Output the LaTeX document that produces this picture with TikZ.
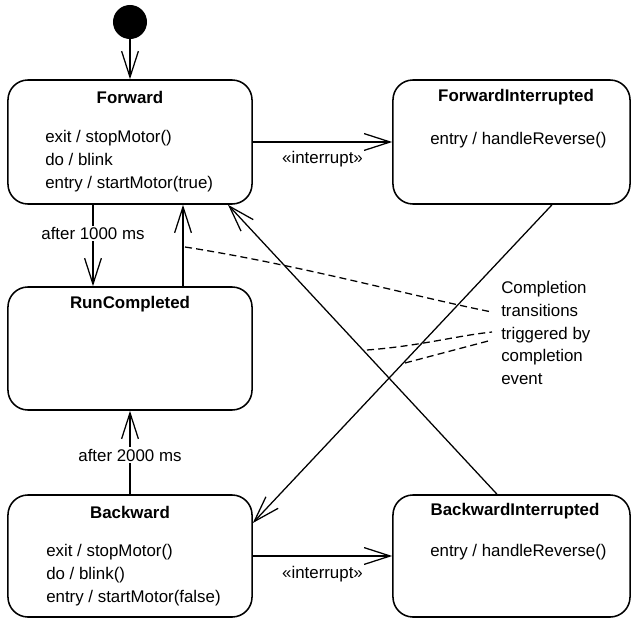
\documentclass[tikz,border=0pt]{standalone}
\usepackage{fontspec}
\setmainfont{Liberation Sans}
\usetikzlibrary{arrows.meta}

\begin{document}
\begin{tikzpicture}[x=0.025cm,y=-0.025cm]
\tikzstyle{every node}=[font=\fontsize{12}{16.2}\selectfont]
\tikzstyle{statebox}=[draw,rectangle,rounded corners=0.5cm,line width=1.1pt,inner sep=0pt,minimum width=6.1cm,minimum height=3.1cm]
\tikzstyle{title}=[font=\fontsize{12}{16}\selectfont\bfseries,inner sep=0pt]
\tikzstyle{acts}=[align=left,anchor=west,inner sep=0pt]
\tikzstyle{trans}=[line width=0.9pt,-{Straight Barb[length=0.65cm,width=0.42cm]}]
\tikzstyle{trlabel}=[fill=white,inner sep=1pt]
\tikzstyle{note}=[line width=0.9pt,dash pattern=on 5pt off 3pt]
\useasboundingbox (0,0) rectangle (632,618);

% initial state
\node[circle,fill=black,minimum size=0.85cm,inner sep=0pt] (init) at (130,22) {};

% states
\node[statebox] (fwd) at (130,142) {};
\node[statebox,minimum width=5.925cm] (fwdi) at (511.5,142) {};
\node[statebox,minimum height=3.075cm] (runc) at (130,348.5) {};
\node[statebox,minimum height=3.05cm] (bwd) at (130,556) {};
\node[statebox,minimum width=5.925cm,minimum height=3.05cm] (bwdi) at (511.5,556) {};

% state names
\node[title] (fwdt) at (130,97) {Forward};
\node[title] (fwdit) at (516,97) {ForwardInterrupted};
\node[title] (runct) at (130,304) {RunCompleted};
\node[title] (bwdt) at (130,512) {Backward};
\node[title] (bwdit) at (515,511) {BackwardInterrupted};

% internal activities
\node[acts] (fwda) at (45,161) {exit / stopMotor()\\do / blink\\entry / startMotor(true)};
\node[acts] (fwdia) at (430,140) {entry / handleReverse()};
\node[acts] (bwda) at (46,575) {exit / stopMotor()\\do / blink()\\entry / startMotor(false)};
\node[acts] (bwdia) at (430,552) {entry / handleReverse()};

% comment
\node[acts] (cmt) at (501,333) {Completion\\transitions\\triggered by\\completion\\event};

% transitions
\draw[trans] (init) -- (fwd);
\draw[trans] ([xshift=-0.925cm]fwd.south) -- node[trlabel,pos=0.35] (t1) {after 1000 ms} ([xshift=-0.925cm]runc.north);
\draw[trans] ([xshift=1.325cm]runc.north) -- ([xshift=1.325cm]fwd.south);
\draw[trans] (fwd.east) -- node[below=6pt,inner sep=0pt] (t3) {«interrupt»} (fwdi.west);
\draw[trans] ([xshift=1.0125cm]fwdi.south) -- ([yshift=0.825cm]bwd.east);
\draw[trans] ([xshift=-0.3625cm]bwdi.north) -- ([xshift=2.45cm]fwd.south);
\draw[trans] (bwd.north) -- node[trlabel,pos=0.47] (t2) {after 2000 ms} (runc.south);
\draw[trans] (bwd.east) -- node[below=7pt,inner sep=0pt] (t4) {«interrupt»} (bwdi.west);

% comment links
\coordinate (n1) at (185,247);
\coordinate (n2) at (367,350);
\coordinate (n3) at (405,363);
\draw[note] (n1) .. controls (300,265) and (420,298) .. ([shift={(-0.225cm,0.525cm)}]cmt.west);
\draw[note] (n2) .. controls (420,346) and (455,336) .. ([shift={(-0.225cm,0.025cm)}]cmt.west);
\draw[note] (n3) -- ([shift={(-0.225cm,-0.175cm)}]cmt.west);
\end{tikzpicture}
\end{document}
